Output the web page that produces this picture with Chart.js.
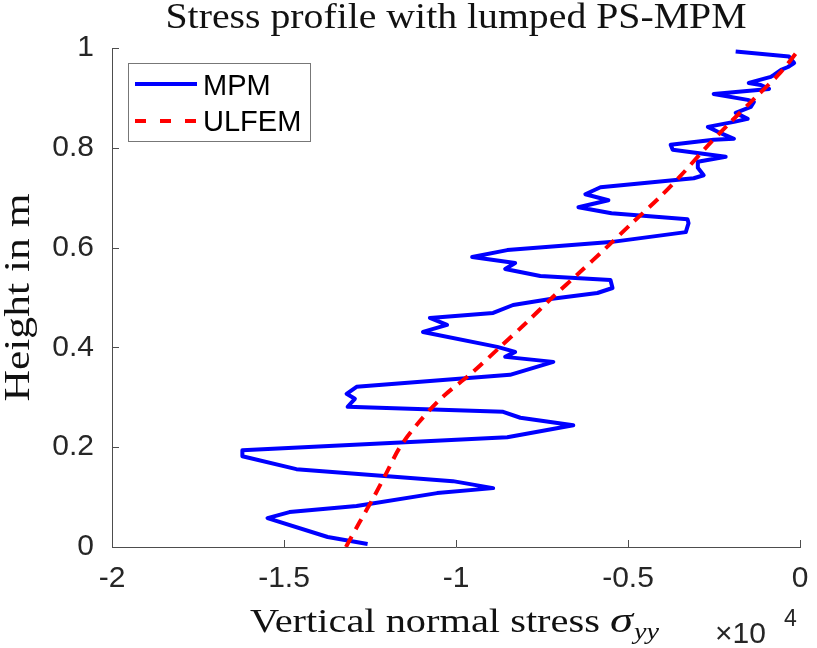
<!DOCTYPE html>
<html>
<head>
<meta charset="utf-8">
<script src="https://cdn.jsdelivr.net/npm/chart.js@4.4.0/dist/chart.umd.min.js"></script>
<style>
html,body{margin:0;padding:0;background:#ffffff;}
#wrap{width:817px;height:648px;position:relative;}
canvas{display:block;}
</style>
</head>
<body>
<div id="wrap"><canvas id="c" width="817" height="648"></canvas></div>
<script>
// ---- Data (stress in units of 1e4, height in m) ----
const mpmStress = [-0.187,-0.032,-0.017,-0.035,-0.055,-0.076,-0.085,-0.149,-0.114,-0.090,
  -0.251,-0.152,-0.134,-0.143,-0.187,-0.152,-0.192,-0.268,-0.239,-0.192,
  -0.251,-0.376,-0.370,-0.216,-0.297,-0.297,-0.280,-0.309,-0.580,-0.624,
  -0.557,-0.644,-0.548,-0.327,-0.324,-0.332,-0.551,-0.851,-0.953,-0.828,
  -0.857,-0.755,-0.551,-0.545,-0.589,-0.726,-0.834,-0.892,-1.076,-1.026,
  -1.096,-0.880,-0.828,-0.857,-0.717,-0.843,-1.289,-1.318,-1.294,-1.315,
  -0.863,-0.813,-0.659,-0.851,-1.621,-1.621,-1.464,-1.009,-0.892,-1.055,
  -1.289,-1.484,-1.548,-1.373,-1.257];
const mpmHeight = [0.993,0.983,0.970,0.962,0.956,0.946,0.942,0.930,0.926,0.918,
  0.908,0.896,0.892,0.882,0.870,0.858,0.852,0.842,0.832,0.818,
  0.816,0.806,0.796,0.782,0.772,0.760,0.745,0.739,0.721,0.707,
  0.695,0.681,0.669,0.657,0.649,0.631,0.611,0.595,0.581,0.569,
  0.557,0.543,0.535,0.519,0.509,0.497,0.485,0.469,0.459,0.445,
  0.431,0.401,0.391,0.381,0.371,0.345,0.321,0.307,0.297,0.281,
  0.271,0.259,0.244,0.220,0.194,0.182,0.156,0.132,0.118,0.108,
  0.082,0.070,0.058,0.020,0.006];
const ulfemHeight = [0,0.05,0.1,0.15,0.2,0.25,0.3,0.35,0.4,0.45,0.5,0.55,0.6,0.65,0.7,0.75,0.8,0.85,0.9,0.95,1.0];
const ulfemStress = [-1.320,-1.280,-1.239,-1.201,-1.163,-1.108,-1.040,-0.952,-0.873,-0.795,-0.720,-0.641,-0.563,-0.487,-0.409,-0.339,-0.274,-0.204,-0.131,-0.058,0.0];
const xTickValues = [-2,-1.5,-1,-0.5,0];
const xTickLabels = ['-2','-1.5','-1','-0.5','0'];
const yTickValues = [0,0.2,0.4,0.6,0.8,1];
const yTickLabels = ['0','0.2','0.4','0.6','0.8','1'];
const seriesNames = ['MPM','ULFEM'];
const titleText = 'Stress profile with lumped PS-MPM';
const xLabelText = 'Vertical normal stress ';
const yLabelText = 'Height in m';

const SERIF = '"Liberation Serif","Times New Roman",serif';
const SANS = '"Liberation Sans",Arial,Helvetica,sans-serif';
const AXIS_COLOR = '#4d4d4d';
const TEXT_COLOR = '#262626';

function fitText(ctx, text, x, y, font, targetW, align) {
  ctx.save();
  ctx.font = font;
  const w = ctx.measureText(text).width;
  const sx = targetW / w;
  ctx.translate(x, y);
  ctx.scale(sx, 1);
  ctx.textAlign = align || 'left';
  ctx.textBaseline = 'alphabetic';
  ctx.fillText(text, 0, 0);
  ctx.restore();
  return sx;
}

const decor = {
  id: 'decor',
  afterDraw(chart) {
    const ctx = chart.ctx;
    const xs = chart.scales.x, ys = chart.scales.y;
    const a = chart.chartArea;
    ctx.save();
    // inward tick marks
    ctx.strokeStyle = AXIS_COLOR;
    ctx.lineWidth = 1;
    xs.ticks.forEach(t => {
      const px = Math.round(xs.getPixelForValue(t.value)) + 0.5;
      ctx.beginPath(); ctx.moveTo(px, a.bottom); ctx.lineTo(px, a.bottom - 7); ctx.stroke();
    });
    ys.ticks.forEach(t => {
      const py = Math.round(ys.getPixelForValue(t.value)) + 0.5;
      ctx.beginPath(); ctx.moveTo(a.left, py); ctx.lineTo(a.left + 7, py); ctx.stroke();
    });
    ctx.fillStyle = '#111111';
    // title
    fitText(ctx, titleText, (a.left + a.right) / 2, 28, '36px ' + SERIF, 581, 'center');
    // x label
    fitText(ctx, xLabelText, 250, 632, '34px ' + SERIF, 360, 'left');
    fitText(ctx, 'σ', 610, 632, 'italic 35px ' + SERIF, 23, 'left');
    fitText(ctx, 'yy', 634, 639, 'italic 24px ' + SERIF, 25, 'left');
    // y label
    ctx.save();
    ctx.translate(29, (a.top + a.bottom) / 2);
    ctx.rotate(-Math.PI / 2);
    fitText(ctx, yLabelText, 0, 0, '35px ' + SERIF, 208, 'center');
    ctx.restore();
    // exponent
    ctx.fillStyle = TEXT_COLOR;
    ctx.font = '30px ' + SANS;
    ctx.textAlign = 'left'; ctx.textBaseline = 'alphabetic';
    ctx.fillText('×10', 715, 643);
    ctx.font = '23px ' + SANS;
    ctx.fillText('4', 784, 626);
    // legend
    ctx.fillStyle = '#ffffff';
    ctx.fillRect(128.5, 63.5, 182, 78);
    ctx.strokeStyle = '#777777';
    ctx.lineWidth = 1;
    ctx.strokeRect(128.5, 63.5, 182, 78);
    ctx.lineWidth = 4;
    ctx.strokeStyle = '#0000ff';
    ctx.beginPath(); ctx.moveTo(135, 84); ctx.lineTo(197, 84); ctx.stroke();
    ctx.strokeStyle = '#ff0000';
    ctx.setLineDash([11, 14]);
    ctx.beginPath(); ctx.moveTo(135, 121); ctx.lineTo(197, 121); ctx.stroke();
    ctx.setLineDash([]);
    ctx.fillStyle = '#000000';
    ctx.font = '29px ' + SANS;
    ctx.fillText(seriesNames[0], 203, 95);
    ctx.fillText(seriesNames[1], 203, 131);
    ctx.restore();
  }
};

function zeroPad(s) { s.paddingLeft = 0; s.paddingRight = 0; s.paddingTop = 0; s.paddingBottom = 0; }

const chart = new Chart(document.getElementById('c'), {
  type: 'scatter',
  data: {
    datasets: [
      {
        label: seriesNames[0],
        data: mpmStress.map((v, i) => ({x: v, y: mpmHeight[i]})),
        showLine: true,
        borderColor: '#0000ff',
        backgroundColor: '#0000ff',
        borderWidth: 4,
        pointRadius: 0,
        tension: 0,
        borderJoinStyle: 'round',
        order: 2
      },
      {
        label: seriesNames[1],
        data: ulfemStress.map((v, i) => ({x: v, y: ulfemHeight[i]})),
        showLine: true,
        borderColor: '#ff0000',
        backgroundColor: '#ff0000',
        borderWidth: 4,
        borderDash: [12, 8],
        pointRadius: 0,
        tension: 0.3,
        order: 1
      }
    ]
  },
  options: {
    responsive: false,
    animation: false,
    events: [],
    layout: {padding: {left: 0, right: 17, top: 48, bottom: 0}},
    plugins: {legend: {display: false}, title: {display: false}, tooltip: {enabled: false}},
    scales: {
      x: {
        type: 'linear', position: 'bottom', min: -2, max: 0,
        afterBuildTicks: s => { s.ticks = xTickValues.map(v => ({value: v})); },
        afterFit: s => { s.height = 101; zeroPad(s); },
        grid: {display: false, drawTicks: false},
        border: {display: true, color: AXIS_COLOR, width: 1},
        ticks: {
          padding: 14, color: TEXT_COLOR, maxRotation: 0, autoSkip: false,
          font: {family: SANS, size: 30},
          callback: (v, i) => xTickLabels[i]
        }
      },
      y: {
        type: 'linear', position: 'left', min: 0, max: 1,
        afterBuildTicks: s => { s.ticks = yTickValues.map(v => ({value: v})); },
        afterFit: s => { s.width = 112; zeroPad(s); },
        grid: {display: false, drawTicks: false},
        border: {display: true, color: AXIS_COLOR, width: 1},
        ticks: {
          padding: 18, color: TEXT_COLOR, autoSkip: false,
          font: {family: SANS, size: 30},
          callback: (v, i) => yTickLabels[i]
        }
      }
    }
  },
  plugins: [decor]
});
</script>
</body>
</html>
